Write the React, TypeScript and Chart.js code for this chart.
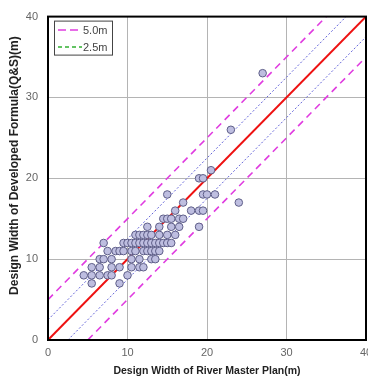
import React, { useEffect, useRef } from "react";
import { Chart, registerables } from "chart.js";

Chart.register(...registerables);

// River master plan design width (x) vs developed formula (Q&S) width (y)
const planWidth = [
  5.5, 9,
  4.5, 5.5, 6.5, 7.5, 8, 10,
  5.5, 6.5, 8, 9, 10.5, 11.5, 12,
  6.5, 7, 8, 10.5, 11.5, 13, 13.5,
  7.5, 8.5, 9, 9.5, 10.5, 11, 12, 12.5, 13, 13.5, 14,
  7, 9.5, 10, 10.5, 11, 11.5, 12, 12.5, 13, 13.5, 14, 14.5, 15, 15.5,
  11, 11.5, 12, 12.5, 13, 14, 15, 16,
  12.5, 14, 15.5, 16.5, 19,
  14.5, 15, 15.5, 16.5, 17,
  16, 18, 19, 19.5,
  17, 24,
  15, 19.5, 20, 21,
  19, 19.5,
  20.5,
  23,
  27,
];
const formulaWidth = [
  7, 7,
  8, 8, 8, 8, 8, 8,
  9, 9, 9, 9, 9, 9, 9,
  10, 10, 10, 10, 10, 10, 10,
  11, 11, 11, 11, 11, 11, 11, 11, 11, 11, 11,
  12, 12, 12, 12, 12, 12, 12, 12, 12, 12, 12, 12, 12, 12,
  13, 13, 13, 13, 13, 13, 13, 13,
  14, 14, 14, 14, 14,
  15, 15, 15, 15, 15,
  16, 16, 16, 16,
  17, 17,
  18, 18, 18, 18,
  20, 20,
  21,
  26,
  33,
];

// Reference lines (endpoints)
const equalLineX = [0, 40];
const equalLineY = [0, 40];
const upper5X = [0, 35];
const upper5Y = [5, 40];
const lower5X = [5, 40];
const lower5Y = [0, 35];
const upper25X = [0, 37.5];
const upper25Y = [2.5, 40];
const lower25X = [2.5, 40];
const lower25Y = [0, 37.5];

const axisTicks = [0, 10, 20, 30, 40];
const legendLabels = ["5.0m", "2.5m"];
const xTitle = "Design Width of River Master Plan(m)";
const yTitle = "Design Width of Developed Formula(Q&S)(m)";

const pts = (xs: number[], ys: number[]) => xs.map((x, i) => ({ x, y: ys[i] }));

const borderPlugin = {
  id: "frameAndLegend",
  afterDraw(chart: any) {
    const { ctx, chartArea } = chart;
    ctx.save();
    ctx.strokeStyle = "#000";
    ctx.lineWidth = 2;
    ctx.strokeRect(chartArea.left, chartArea.top, chartArea.right - chartArea.left, chartArea.bottom - chartArea.top);
    // legend box
    const bx = chartArea.left + 6;
    const by = chartArea.top + 4;
    ctx.fillStyle = "#fff";
    ctx.fillRect(bx, by, 58, 34);
    ctx.strokeStyle = "#444";
    ctx.lineWidth = 1;
    ctx.strokeRect(bx + 0.5, by + 0.5, 58, 34);
    const colors = ["#e03ce0", "#30b030"];
    const dashes = [[8, 4], [4, 3]];
    legendLabels.forEach((lab, i) => {
      const y = by + 9 + i * 17;
      ctx.strokeStyle = colors[i];
      ctx.lineWidth = 1.5;
      ctx.setLineDash(dashes[i]);
      ctx.beginPath();
      ctx.moveTo(bx + 4, y + 0.5);
      ctx.lineTo(bx + 28, y + 0.5);
      ctx.stroke();
      ctx.setLineDash([]);
      ctx.fillStyle = "#444";
      ctx.font = "11px 'Liberation Sans', Arial, sans-serif";
      ctx.textBaseline = "middle";
      ctx.textAlign = "left";
      ctx.fillText(lab, bx + 29, y + 1);
    });
    // y-axis title
    ctx.translate(15, chartArea.top + 149);
    ctx.rotate(-Math.PI / 2);
    ctx.fillStyle = "#222";
    ctx.font = "bold 12px 'Liberation Sans', Arial, sans-serif";
    ctx.textAlign = "center";
    ctx.textBaseline = "middle";
    ctx.fillText(yTitle, 0, 0);
    ctx.restore();
  },
};

export default function App() {
  const ref = useRef<HTMLCanvasElement>(null);
  useEffect(() => {
    document.body.style.margin = "0";
    document.body.style.overflow = "hidden";
    const lineDs = (xs: number[], ys: number[], color: string, width: number, dash: number[]) => ({
      type: "line" as const,
      data: pts(xs, ys),
      borderColor: color,
      borderWidth: width,
      borderDash: dash,
      pointRadius: 0,
      showLine: true,
      fill: false,
    });
    const chart = new Chart(ref.current!, {
      type: "scatter",
      data: {
        datasets: [
          {
            data: pts(planWidth, formulaWidth),
            pointRadius: 3.8,
            backgroundColor: "#bebee0",
            borderColor: "#5e5e88",
            borderWidth: 1,
          } as any,
          lineDs(equalLineX, equalLineY, "#ee1111", 2, []),
          lineDs(upper5X, upper5Y, "#e03ce0", 1.6, [7, 5]),
          lineDs(lower5X, lower5Y, "#e03ce0", 1.6, [7, 5]),
          lineDs(upper25X, upper25Y, "#6464d8", 1, [2, 2]),
          lineDs(lower25X, lower25Y, "#6464d8", 1, [2, 2]),
        ],
      },
      options: {
        responsive: false,
        animation: false,
        layout: { padding: { left: 0, right: 24, top: 12, bottom: 0 } },
        plugins: { legend: { display: false }, tooltip: { enabled: false } },
        scales: {
          x: {
            type: "linear",
            min: 0,
            max: 40,
            afterBuildTicks: (s: any) => { s.ticks = axisTicks.map((v) => ({ value: v })); },
            afterFit: (s: any) => { s.height = 40; },
            ticks: { color: "#666", font: { family: "'Liberation Sans', Arial", size: 11 }, padding: 6 },
            grid: { color: "#b4b4b4", drawTicks: false },
            border: { display: false },
            title: {
              display: true,
              text: xTitle,
              color: "#222",
              font: { family: "'Liberation Sans', Arial", size: 10.5, weight: "bold" },
              padding: { top: 3, bottom: 3 },
            },
          },
          y: {
            type: "linear",
            min: 0,
            max: 40,
            afterBuildTicks: (s: any) => { s.ticks = axisTicks.map((v) => ({ value: v })); },
            afterFit: (s: any) => { s.width = 48; },
            ticks: { color: "#666", font: { family: "'Liberation Sans', Arial", size: 11 }, padding: 10 },
            grid: { color: "#b4b4b4", drawTicks: false },
            border: { display: false },
            title: { display: false, text: yTitle },
          },
        },
      } as any,
      plugins: [borderPlugin],
    });
    return () => chart.destroy();
  }, []);
  return (
    <div style={{ width: 368, height: 380, overflow: "hidden" }}>
      <canvas ref={ref} width={390} height={380} style={{ width: 390, height: 380, display: "block" }} />
    </div>
  );
}
